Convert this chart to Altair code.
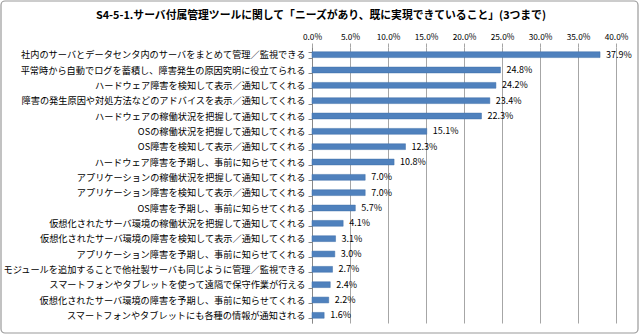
import altair as alt
import pandas as pd

categories = [
    "社内のサーバとデータセンタ内のサーバをまとめて管理／監視できる",
    "平常時から自動でログを蓄積し、障害発生の原因究明に役立てられる",
    "ハードウェア障害を検知して表示／通知してくれる",
    "障害の発生原因や対処方法などのアドバイスを表示／通知してくれる",
    "ハードウェアの稼働状況を把握して通知してくれる",
    "OSの稼働状況を把握して通知してくれる",
    "OS障害を検知して表示／通知してくれる",
    "ハードウェア障害を予期し、事前に知らせてくれる",
    "アプリケーションの稼働状況を把握して通知してくれる",
    "アプリケーション障害を検知して表示／通知してくれる",
    "OS障害を予期し、事前に知らせてくれる",
    "仮想化されたサーバ環境の稼働状況を把握して通知してくれる",
    "仮想化されたサーバ環境の障害を検知して表示／通知してくれる",
    "アプリケーション障害を予期し、事前に知らせてくれる",
    "モジュールを追加することで他社製サーバも同じように管理／監視できる",
    "スマートフォンやタブレットを使って遠隔で保守作業が行える",
    "仮想化されたサーバ環境の障害を予期し、事前に知らせてくれる",
    "スマートフォンやタブレットにも各種の情報が通知される",
]
values = [37.9, 24.8, 24.2, 23.4, 22.3, 15.1, 12.3, 10.8, 7.0, 7.0, 5.7, 4.1, 3.1, 3.0, 2.7, 2.4, 2.2, 1.6]
x_ticks = [0, 5, 10, 15, 20, 25, 30, 35, 40]
title_text = "S4-5-1.サーバ付属管理ツールに関して「ニーズがあり、既に実現できていること」(3つまで)"

df = pd.DataFrame({"item": categories, "value": values})
df["label"] = df["value"].map(lambda v: f"{v:.1f}%")

FONT = "Noto Sans CJK JP"

x_axis = alt.Axis(
    orient="top", values=x_ticks, labelExpr="format(datum.value, '.1f') + '%'",
    title=None, domain=False, ticks=True, tickSize=4, tickColor="#a6a6a6",
    grid=True, gridColor="#a6a6a6", gridWidth=1, labelOverlap=False, labelFlush=False,
    labelFont=FONT, labelFontSize=8.3, labelColor="#000000", labelPadding=2,
)
y_axis = alt.Axis(
    title=None, labelFont=FONT, labelFontSize=9.2, labelColor="#000000",
    domainColor="#888888", tickColor="#888888", tickSize=4, tickBand="extent",
    labelPadding=3, labelLimit=320, grid=False,
)
x_scale = alt.Scale(domain=[0, 40], nice=False)
y_scale = alt.Scale(paddingInner=0.62, paddingOuter=0.31)

frame = pd.DataFrame({"t": [title_text]})

border = alt.Chart(frame).mark_rect(
    fill=None, stroke="#9a9a9a", strokeWidth=1.2, cornerRadius=4
).encode(x=alt.value(-311), x2=alt.value(326), y=alt.value(-46), y2=alt.value(286))

title = alt.Chart(frame).mark_text(
    align="center", baseline="middle", font=FONT, fontSize=10.8, fontWeight="bold", color="#000000"
).encode(x=alt.value(9), y=alt.value(-31), text="t:N")

bars = alt.Chart(df).mark_bar(color="#4F81BD", stroke="#3f6fa8", strokeWidth=0.5).encode(
    x=alt.X("value:Q", scale=x_scale, axis=x_axis),
    y=alt.Y("item:N", sort=categories, scale=y_scale, axis=y_axis),
)
labels = alt.Chart(df).mark_text(
    align="left", baseline="middle", dx=6, font=FONT, fontSize=9, color="#000000"
).encode(
    x=alt.X("value:Q", scale=x_scale, axis=x_axis),
    y=alt.Y("item:N", sort=categories, scale=y_scale, axis=y_axis),
    text="label:N",
)

chart = alt.layer(bars, labels, border, title).properties(
    width=304, height=276,
    autosize=alt.AutoSizeParams(type="none"),
    padding={"left": 312, "top": 47, "right": 24, "bottom": 12},
    background="white",
).configure_view(stroke=None)

chart.save("out.html", embed_options={"renderer": "svg", "actions": False})
